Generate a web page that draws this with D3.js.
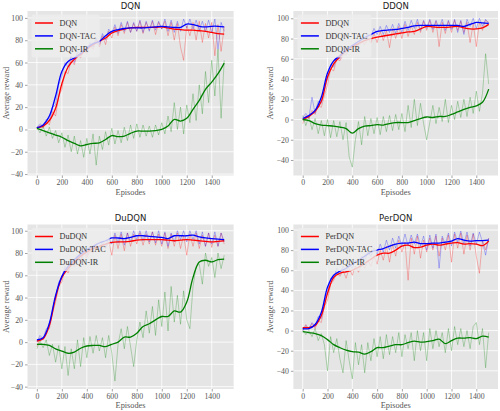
<!DOCTYPE html>
<html><head><meta charset="utf-8">
<script src="https://cdn.jsdelivr.net/npm/d3@7"></script>
<style>body{margin:0;background:#fff} svg{display:block}</style>
</head><body>
<svg id="c" width="500" height="411"></svg>
<script>
// ---------- data ----------
const titles = ["DQN", "DDQN", "DuDQN", "PerDQN"];
const suffixes = ["", "-TAC", "-IR"];
const xTicks = [0, 200, 400, 600, 800, 1000, 1200, 1400];
const yTicks = [-40, -20, 0, 20, 40, 60, 80, 100];
const smoothStep = 50;   // episodes between smoothed points
const rawStep = 25;      // episodes between raw points

// smoothed curves (episode 0..1500 every 50)
const dqnSmooth    = [1.5,3,8,19,41,56,63,67,72,76,79,82,86.5,88.5,90,91,91.5,91.5,91.5,91.5,92,91,90,89.5,89,89,88.5,88,87,86,85.5];
const dqnTacSmooth = [1.5,4,12,30,52,61,64,68,73,77,79,84,88,89.5,90.5,91,91,91,91.5,92,92.5,92,91.5,91.5,94.5,94,92.5,92,92.5,92.5,92];
const dqnIrSmooth  = [1,-1,-3,-5,-7,-10,-12.5,-14.7,-13.5,-12.5,-12,-9,-5.5,-6.5,-6,-3.5,-1.5,-1.5,-1.5,-1,0,3,9,7.5,10,18,26,36,42.5,50,59.5];

const ddqnSmooth    = [0,3,8,18,42,55,62,68,72,75,78,80,81.5,82.5,83.5,84.5,85.5,86.5,87,89.5,92,91.5,91,91,91.5,92,90.5,89.5,89.5,90.5,94];
const ddqnTacSmooth = [1,4,9,22,46,58,63,69,73,77,81,84,87,88,88.5,89,90,91,92.5,93,93,93,93,93,93,93,92,94,96,95.5,95];
const ddqnIrSmooth  = [0,-1,-4,-5.5,-6,-6.5,-7.5,-9,-13.5,-9,-6.5,-6,-5,-5.5,-4,-3,-3,-3,-1,1,2.5,2,3,3,5,7.5,10,12,13.5,17,30];

const dudqnSmooth    = [1,3,15,40,58,66,72,77,81,84,86,88,89.5,90,90,90.5,91.5,92,92,92,92,91.5,91,91.5,92,91.5,91,90.5,90,90.5,91];
const dudqnTacSmooth = [2,4,17,42,59,68,74,79,83,86,89,91,93.5,93.5,93,94,95.5,95.5,95,94.5,94,93,95.5,95.5,95.5,96,94.5,93.5,93,92.5,92];
const dudqnIrSmooth  = [-2,-2,-3,-6,-8,-10,-9,-5.5,-3.5,-3,-3,-4,-2,0,4.5,4.5,8,14,16.5,20,23,23,28,27,36,58,72,73.5,72,74,74.5];

const perdqnSmooth    = [3,3,5,15,37,53,57,58.5,60,63,67,71,75,77,77,80,84,85,82.5,83,85,86,85,86,87,87.5,86,86.5,86,84.5,89];
const perdqnTacSmooth = [2,2,6,18,43,55,59,62,66,70,74,78,80,81.5,84,86,87,87,88,86.5,86.5,87,87,88,89,91.5,90,89,89.5,89.5,90];
const perdqnIrSmooth  = [-1,-2,-3,-5,-9,-14,-17,-19.5,-21,-21.5,-23.5,-21,-17,-17,-15.5,-14,-14,-12,-10.5,-11.5,-11,-10,-8.5,-13,-10,-7.5,-7.5,-7,-8,-5.5,-6.5];

// raw rewards (episode 0..1500 every 25)
const dqnRaw    = [0,4,1,7,4,16,12,30,36,52,50,63,58,68,64,72,68,76,72,80,74,84,76,88,82,92,84,94,86,96,87,95,88,97,86,96,89,97,85,96,90,97,84,96,80,95,74,62,93,84,96,80,97,78,95,82,96,66,94,70,92];
const dqnTacRaw = [2,5,3,9,8,20,22,40,48,60,56,66,60,70,66,74,70,78,74,82,76,86,80,90,86,94,86,96,88,97,87,96,88,98,87,97,88,98,89,97,90,99,88,98,87,97,88,99,91,99,90,98,89,97,88,98,87,99,72,96,88];
const dqnIrRaw  = [2,-3,3,-6,2,-8,-1,-12,-3,-16,-5,-20,-6,-22,-10,-25,-8,-22,-4,-32,-6,-18,-2,-14,1,-13,-1,-12,2,-10,4,-8,5,-7,4,-6,3,-7,4,-5,6,-4,12,-2,24,0,20,-4,22,6,32,8,40,14,52,24,62,30,72,10,62];

const ddqnRaw    = [-4,4,1,9,5,14,12,24,34,50,48,60,58,64,64,70,68,74,72,77,74,80,76,85,76,87,78,88,71,90,80,92,80,94,82,93,84,96,86,97,88,98,86,97,72,96,85,97,86,98,88,97,86,96,76,95,72,96,88,98,96];
const ddqnTacRaw = [2,6,2,22,6,18,16,30,40,54,52,62,60,66,66,72,70,76,74,80,78,84,82,90,84,92,84,93,86,94,85,95,86,97,88,98,90,99,88,98,90,99,89,98,90,99,88,98,89,99,86,98,84,99,92,100,90,100,92,99,95];
const ddqnIrRaw  = [4,-6,3,-10,1,-14,-1,-16,0,-18,-1,-17,-2,-20,-3,-37,-47,-20,-2,-25,3,-16,1,-14,2,-15,3,-12,4,-11,5,-10,6,-12,14,-8,20,-6,16,-4,-20,-3,14,-4,12,-2,20,-3,14,0,18,2,20,3,22,6,28,8,26,65,35];

const dudqnRaw    = [-4,4,2,10,12,26,36,50,54,66,62,70,68,74,72,80,76,82,80,86,82,88,84,90,78,96,84,97,82,98,86,97,88,98,87,97,88,99,87,97,86,98,84,97,86,98,84,96,78,97,86,98,84,96,86,98,85,96,86,98,88];
const dudqnTacRaw = [0,6,3,12,14,30,40,54,58,68,64,72,70,76,74,82,78,85,82,88,84,90,86,93,88,98,89,99,87,98,90,100,92,100,91,100,90,99,89,100,88,99,86,98,90,100,92,100,90,100,92,100,88,99,86,98,88,99,86,98,90];
const dudqnIrRaw  = [-6,1,-5,2,-12,-2,-18,-3,-24,-4,-30,-6,-24,2,-22,4,-14,5,-10,6,-8,4,-14,6,-10,-35,-2,12,-6,14,-4,-22,2,18,4,28,8,32,6,38,14,45,10,50,18,42,16,46,20,12,50,68,70,52,80,68,76,58,80,66,78];

const perdqnRaw    = [0,6,1,7,2,10,8,24,30,46,50,58,54,60,52,62,55,64,58,66,62,70,64,74,66,80,70,84,68,86,74,90,78,88,50,92,76,94,72,90,78,92,80,94,74,92,80,95,68,96,82,97,76,95,80,96,74,57,90,80,92];
const perdqnTacRaw = [0,5,2,8,4,14,12,30,38,52,52,62,56,64,58,66,62,70,66,74,70,78,74,82,76,86,78,90,80,92,82,94,84,96,84,95,86,96,84,94,80,95,82,96,62,94,86,97,84,98,88,99,86,98,84,97,86,98,88,75,92];
const perdqnIrRaw  = [2,-4,0,-6,2,-10,-3,-14,-40,-6,-22,-8,-28,-42,-10,-30,-48,-12,-34,-14,-42,-12,-30,-8,-26,-6,-28,-4,-24,-6,-22,-2,-26,-4,-18,-2,-30,0,-20,-2,-30,2,-18,0,-16,-2,-22,2,-20,4,-14,2,-16,0,-18,4,8,-14,2,-37,-2];

const smoothSets = [
  [dqnSmooth, dqnTacSmooth, dqnIrSmooth],
  [ddqnSmooth, ddqnTacSmooth, ddqnIrSmooth],
  [dudqnSmooth, dudqnTacSmooth, dudqnIrSmooth],
  [perdqnSmooth, perdqnTacSmooth, perdqnIrSmooth]
];
const rawSets = [
  [dqnRaw, dqnTacRaw, dqnIrRaw],
  [ddqnRaw, ddqnTacRaw, ddqnIrRaw],
  [dudqnRaw, dudqnTacRaw, dudqnIrRaw],
  [perdqnRaw, perdqnTacRaw, perdqnIrRaw]
];

// ---------- layout ----------
const colors = ["#FF0000", "#0000FF", "#008000"];
const panels = [
  {l: 27.5,  r: 233.6, t: 11,    b: 175.5, yDom: [-41.3, 106.2], ylx: 6,     xlab: 192.5, ty: 9},
  {l: 293.4, r: 498,   t: 11,    b: 175.5, yDom: [-55.3, 107.2], ylx: 270.5, xlab: 192.5, ty: 9},
  {l: 27.5,  r: 233.6, t: 224.5, b: 389,   yDom: [-42.1, 105.6], ylx: 6,     xlab: 405.5, ty: 221},
  {l: 293.4, r: 498,   t: 224.5, b: 389,   yDom: [-58.1, 105.5], ylx: 270.5, xlab: 405.5, ty: 221}
];
const serif = '"Liberation Serif", "Times New Roman", serif';
const sans = '"DejaVu Sans", sans-serif';

const svg = d3.select("#c");

panels.forEach((p, pi) => {
  const x = d3.scaleLinear().domain([-75, 1575]).range([p.l, p.r]);
  const y = d3.scaleLinear().domain(p.yDom).range([p.b, p.t]);
  const g = svg.append("g");

  const clipId = "clip" + pi;
  g.append("clipPath").attr("id", clipId).append("rect")
    .attr("x", p.l).attr("y", p.t).attr("width", p.r - p.l).attr("height", p.b - p.t);

  g.append("rect").attr("x", p.l).attr("y", p.t)
    .attr("width", p.r - p.l).attr("height", p.b - p.t).attr("fill", "#E5E5E5");

  // grid
  g.append("g").selectAll("line").data(xTicks).join("line")
    .attr("x1", d => x(d)).attr("x2", d => x(d)).attr("y1", p.t).attr("y2", p.b)
    .attr("stroke", "#fff").attr("stroke-width", 0.8);
  g.append("g").selectAll("line").data(yTicks).join("line")
    .attr("y1", d => y(d)).attr("y2", d => y(d)).attr("x1", p.l).attr("x2", p.r)
    .attr("stroke", "#fff").attr("stroke-width", 0.8);

  const plot = g.append("g").attr("clip-path", `url(#${clipId})`);
  const rawLine = d3.line().x((d, i) => x(i * rawStep)).y(d => y(d));
  const smLine = d3.line().x((d, i) => x(i * smoothStep)).y(d => y(d)).curve(d3.curveCatmullRom.alpha(0.5));

  [0, 1, 2].forEach(k => {
    plot.append("path").datum(rawSets[pi][k]).attr("d", rawLine)
      .attr("fill", "none").attr("stroke", colors[k]).attr("stroke-opacity", 0.3).attr("stroke-width", 0.9);
  });
  [0, 1, 2].forEach(k => {
    plot.append("path").datum(smoothSets[pi][k]).attr("d", smLine)
      .attr("fill", "none").attr("stroke", colors[k]).attr("stroke-width", 1.3);
  });

  // legend
  const lx = p.l + 4, ly = p.t + 3.5;
  const leg = g.append("g");
  const box = leg.append("rect").attr("x", lx).attr("y", ly).attr("height", 43)
    .attr("rx", 2).attr("fill", "#EDEDED").attr("fill-opacity", 0.82);
  let maxW = 0;
  suffixes.forEach((s, k) => {
    const yy = ly + 8.5 + k * 12.9;
    leg.append("line").attr("x1", lx + 3.5).attr("x2", lx + 21.5).attr("y1", yy).attr("y2", yy)
      .attr("stroke", colors[k]).attr("stroke-width", 1.5);
    const t = leg.append("text").attr("x", lx + 28).attr("y", yy).attr("dy", "0.35em")
      .attr("font-family", serif).attr("font-size", 8.2).attr("fill", "#333")
      .text(titles[pi] + s);
    maxW = Math.max(maxW, t.node().getComputedTextLength());
  });
  box.attr("width", 28 + maxW + 4);

  // axes
  const gx = g.append("g").attr("transform", `translate(0,${p.b})`)
    .call(d3.axisBottom(x).tickValues(xTicks).tickSize(2.5).tickPadding(1.5).tickFormat(d3.format("d")));
  const gy = g.append("g").attr("transform", `translate(${p.l},0)`)
    .call(d3.axisLeft(y).tickValues(yTicks).tickSize(2.5).tickPadding(2).tickFormat(d3.format("d")));
  [gx, gy].forEach(a => {
    a.select(".domain").remove();
    a.attr("font-family", serif).attr("font-size", 7.8);
    a.selectAll("line").attr("stroke", "#666").attr("stroke-width", 0.6);
    a.selectAll("text").attr("fill", "#555");
  });

  // labels
  g.append("text").attr("x", (p.l + p.r) / 2).attr("y", p.xlab).attr("dy", "0.35em")
    .attr("text-anchor", "middle").attr("font-family", serif).attr("font-size", 8.3)
    .attr("fill", "#555").text("Episodes");
  g.append("text").attr("transform", `translate(${p.ylx},${(p.t + p.b) / 2}) rotate(-90)`)
    .attr("dy", "0.35em").attr("text-anchor", "middle").attr("font-family", serif)
    .attr("font-size", 8.3).attr("fill", "#555").text("Average reward");
  g.append("text").attr("x", (p.l + p.r) / 2).attr("y", p.ty)
    .attr("text-anchor", "middle").attr("font-family", sans).attr("font-size", 8.5)
    .attr("fill", "#222").text(titles[pi]);
});
</script>
</body></html>
